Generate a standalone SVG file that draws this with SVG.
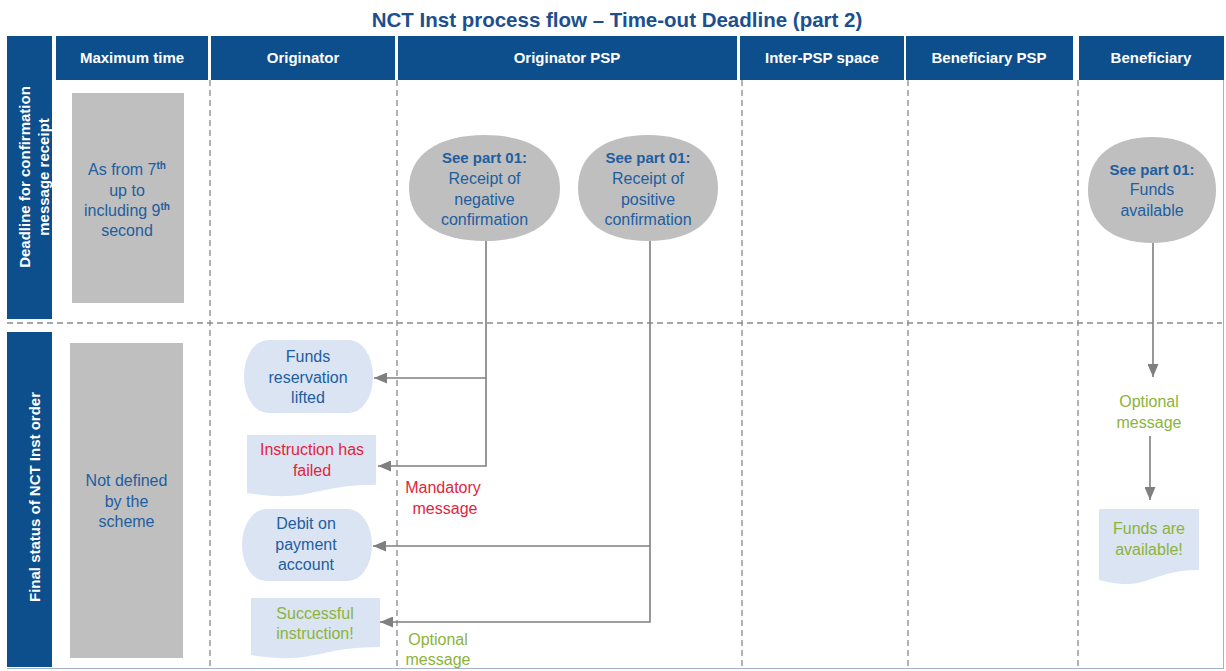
<svg xmlns="http://www.w3.org/2000/svg" width="1226" height="671" viewBox="0 0 1226 671">
<style>
text{font-family:"Liberation Sans",Arial,sans-serif;}
.title{font-size:20.5px;font-weight:bold;fill:#1c4f8f;}
.hdr{fill:#0d4e8c;}
.htx{font-size:15px;font-weight:bold;fill:#ffffff;text-anchor:middle;}
.side{font-size:15px;font-weight:bold;fill:#ffffff;text-anchor:middle;}
.dash{stroke:#8a8a8a;stroke-width:1.3;stroke-dasharray:6 4;fill:none;}
.greyb{fill:#bfbfbf;}
.blob{fill:#bfbfbf;}
.lb{fill:#dbe4f3;}
.t{font-size:16px;text-anchor:middle;fill:#215e9f;}
.tb{font-size:15px;font-weight:bold;text-anchor:middle;fill:#215e9f;}
.red{font-size:16px;text-anchor:middle;fill:#e1253e;}
.grn{font-size:16px;text-anchor:middle;fill:#8cb33a;}
.conn{stroke:#7f7f7f;stroke-width:1.6;fill:none;}
</style>
<defs>
<marker id="arr" markerUnits="userSpaceOnUse" markerWidth="13" markerHeight="11" refX="13" refY="5.5" orient="auto">
<path d="M0,0 L13,5.5 L0,11 Z" fill="#7f7f7f"/>
</marker>
</defs>
<rect width="1226" height="671" fill="#ffffff"/>
<text class="title" x="617" y="27" text-anchor="middle">NCT Inst process flow – Time-out Deadline (part 2)</text>

<g id="lanes">
<rect class="hdr" x="56" y="36" width="152" height="44"/>
<rect class="hdr" x="211" y="36" width="184" height="44"/>
<rect class="hdr" x="398" y="36" width="339" height="44"/>
<rect class="hdr" x="740" y="36" width="164" height="44"/>
<rect class="hdr" x="906" y="36" width="167" height="44"/>
<rect class="hdr" x="1079" y="36" width="145" height="44"/>
<text class="htx" x="132" y="63">Maximum time</text>
<text class="htx" x="303" y="63">Originator</text>
<text class="htx" x="567" y="63">Originator PSP</text>
<text class="htx" x="822" y="63">Inter-PSP space</text>
<text class="htx" x="989" y="63">Beneficiary PSP</text>
<text class="htx" x="1151" y="63">Beneficiary</text>
<line class="dash" x1="210" y1="80" x2="210" y2="668"/>
<line class="dash" x1="397" y1="80" x2="397" y2="668"/>
<line class="dash" x1="742" y1="80" x2="742" y2="668"/>
<line class="dash" x1="908" y1="80" x2="908" y2="668"/>
<line class="dash" x1="1078" y1="80" x2="1078" y2="668"/>
<line class="dash" x1="7" y1="323" x2="1222" y2="323"/>
<line x1="1223.5" y1="80" x2="1223.5" y2="668" stroke="#9fb4ca" stroke-width="1"/>
<line x1="7" y1="668.5" x2="1224" y2="668.5" stroke="#9fb4ca" stroke-width="1"/>
</g>

<g id="row-deadline">
<rect class="hdr" x="7" y="36" width="45" height="283"/>
<text class="side" transform="translate(30,177) rotate(-90)">Deadline for confirmation</text>
<text class="side" transform="translate(49,177) rotate(-90)">message receipt</text>
</g>
<g id="row-final">
<rect class="hdr" x="7" y="332" width="45" height="335"/>
<text class="side" transform="translate(39.5,497) rotate(-90)">Final status of NCT Inst order</text>
</g>

<g id="time-1">
<rect class="greyb" x="72" y="93" width="112" height="210"/>
<text class="t" x="127" y="175">As from 7<tspan font-size="10" font-weight="bold" dy="-6">th</tspan></text>
<text class="t" x="127" y="196">up to</text>
<text class="t" x="127" y="216">including 9<tspan font-size="10" font-weight="bold" dy="-6">th</tspan></text>
<text class="t" x="127" y="236">second</text>
</g>
<g id="time-2">
<rect class="greyb" x="70" y="343" width="113" height="315"/>
<text class="t" x="126.5" y="486">Not defined</text>
<text class="t" x="126.5" y="507">by the</text>
<text class="t" x="126.5" y="527">scheme</text>
</g>

<g id="neg-confirmation">
<path class="blob" d="M409,188 C409,155 437.5,135 484.5,135 C531.5,135 560,155 560,188 C560,221 531.5,241 484.5,241 C437.5,241 409,221 409,188 Z"/>
<text class="tb" x="484.5" y="163">See part 01:</text>
<text class="t" x="484.5" y="184">Receipt of</text>
<text class="t" x="484.5" y="205">negative</text>
<text class="t" x="484.5" y="225">confirmation</text>
</g>
<g id="pos-confirmation">
<path class="blob" d="M578,188 C578,155 604,135 648,135 C692,135 718,155 718,188 C718,221 692,241 648,241 C604,241 578,221 578,188 Z"/>
<text class="tb" x="648" y="163">See part 01:</text>
<text class="t" x="648" y="184">Receipt of</text>
<text class="t" x="648" y="205">positive</text>
<text class="t" x="648" y="225">confirmation</text>
</g>
<g id="funds-available-ref">
<path class="blob" d="M1088,190 C1088,157 1112,137 1152,137 C1192,137 1216,157 1216,190 C1216,223 1192,243 1152,243 C1112,243 1088,223 1088,190 Z"/>
<text class="tb" x="1152" y="175">See part 01:</text>
<text class="t" x="1152" y="195">Funds</text>
<text class="t" x="1152" y="216">available</text>
</g>

<g id="funds-reservation">
<rect class="lb" x="244" y="340" width="129" height="73" rx="24" ry="36"/>
<text class="t" x="308" y="362">Funds</text>
<text class="t" x="308" y="383">reservation</text>
<text class="t" x="308" y="403">lifted</text>
</g>
<g id="instruction-failed">
<path class="lb" d="M247,435 H376 V484.7 C311.5,484.7 311.5,503.6 247,492.9 Z"/>
<text class="red" x="312" y="455">Instruction has</text>
<text class="red" x="312" y="476">failed</text>
</g>
<g id="debit">
<rect class="lb" x="242" y="509" width="130" height="72" rx="24" ry="36"/>
<text class="t" x="306" y="529">Debit on</text>
<text class="t" x="306" y="550">payment</text>
<text class="t" x="306" y="570">account</text>
</g>
<g id="successful">
<path class="lb" d="M251,598 H380 V647 C315.5,647 315.5,665.5 251,655 Z"/>
<text class="grn" x="315" y="619">Successful</text>
<text class="grn" x="315" y="639">instruction!</text>
</g>
<g id="funds-are-available">
<path class="lb" d="M1099,509 H1199 V570 C1149,570 1149,593 1099,580 Z"/>
<text class="grn" x="1149" y="534">Funds are</text>
<text class="grn" x="1149" y="555">available!</text>
</g>

<g id="connectors">
<path class="conn" d="M486,241 V466 H378" marker-end="url(#arr)"/>
<path class="conn" d="M486,378 H374" marker-end="url(#arr)"/>
<path class="conn" d="M650,241 V622 H380" marker-end="url(#arr)"/>
<path class="conn" d="M650,546 H373" marker-end="url(#arr)"/>
<path class="conn" d="M1153,243 V377" marker-end="url(#arr)"/>
<path class="conn" d="M1150,436 V500" marker-end="url(#arr)"/>
<text class="red" x="443" y="493">Mandatory</text>
<text class="red" x="445" y="514">message</text>
<text class="grn" x="438" y="645">Optional</text>
<text class="grn" x="438" y="665">message</text>
<text class="grn" x="1149" y="407">Optional</text>
<text class="grn" x="1149" y="428">message</text>
</g>
</svg>
